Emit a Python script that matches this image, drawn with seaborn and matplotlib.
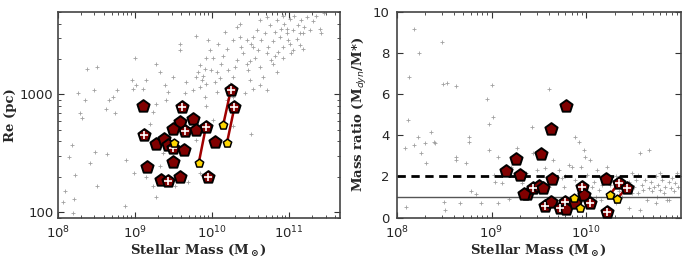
import numpy as np
import pandas as pd
import seaborn as sns
import matplotlib.pyplot as plt
from matplotlib.ticker import FixedLocator, FixedFormatter, LogLocator, NullFormatter

# ---- left panel: background sample, log10 stellar mass / log10 Re ----
bg_logm_re = [8.10, 8.14, 8.18, 8.23, 8.26, 8.29, 8.31, 8.35, 8.38, 8.42, 8.47, 8.48, 8.51, 8.51,
              8.63, 8.64, 8.66, 8.72, 8.74, 8.77, 8.87, 8.89, 8.96, 8.98, 8.99, 9.00, 9.02, 8.20,
              8.07, 8.21,
              9.11, 9.15, 9.28, 9.33, 9.39, 9.43, 9.50, 9.58, 9.58, 9.80, 9.84, 9.89, 9.92, 9.95,
              9.97, 9.99, 9.93, 9.80, 9.76, 9.67, 9.61, 9.41, 9.28, 9.24, 9.20, 9.37, 9.33, 9.50,
              9.67, 9.80, 9.28, 9.15, 9.24, 9.69, 9.84, 9.52, 9.61, 9.65, 9.84, 9.91,
              10.04, 10.06, 10.10, 10.12, 10.15, 10.19, 10.21, 10.23, 10.28, 10.30, 10.32, 10.33,
              10.36, 10.38, 10.41, 10.45, 10.47, 10.49, 10.51, 10.53, 10.56, 10.58, 10.60, 10.62,
              10.64, 10.66, 10.69, 10.71, 10.73, 10.75, 10.77, 10.79, 10.82, 10.84, 10.86, 10.88,
              10.90, 10.92, 10.94, 10.97, 10.99, 11.01, 11.03, 11.05, 11.07, 11.10, 11.12, 11.14,
              11.16, 11.18, 11.20, 11.23, 11.27, 11.31, 11.35, 11.40, 11.42, 11.46, 10.71, 10.53,
              10.43, 10.28, 10.19, 10.06, 9.93, 10.02, 10.51, 10.28, 10.23, 10.79, 10.84, 10.62,
              10.49, 10.28, 10.17, 10.08, 10.02, 9.91, 9.87, 9.82, 10.71, 10.92, 11.14, 11.01,
              10.62, 10.92, 11.05, 11.18, 10.82, 10.97, 10.53, 10.45, 10.36]
bg_logre = [2.18, 2.47, 2.57, 2.32, 3.01, 2.84, 2.80, 2.95, 3.22, 2.42, 3.04, 2.51, 3.23, 2.22,
            2.88, 2.49, 2.95, 2.98, 2.84, 3.04, 2.05, 2.44, 3.12, 3.05, 2.33, 3.31, 3.08, 1.99,
            2.09, 2.11,
            3.05, 3.12, 3.26, 3.19, 3.08, 3.02, 3.15, 3.43, 3.38, 3.50, 3.25, 3.16, 3.31, 3.46,
            3.38, 3.21, 3.09, 3.15, 3.04, 3.11, 2.91, 2.95, 2.92, 2.85, 2.75, 2.50, 2.39, 2.44,
            2.56, 2.61, 2.13, 2.30, 2.22, 2.26, 2.33, 2.22, 2.50, 3.01, 3.06, 2.98,
            3.11, 3.19, 3.14, 3.26, 3.33, 3.39, 3.21, 3.09, 3.15, 3.23, 3.29, 3.57,
            3.60, 3.40, 3.35, 3.26, 3.21, 3.12, 3.43, 3.49, 3.31, 3.55, 3.38, 3.23,
            3.46, 3.15, 3.52, 3.35, 3.40, 3.59, 3.29, 3.45, 3.53, 3.63, 3.36, 3.49,
            3.56, 3.40, 3.60, 3.52, 3.46, 3.64, 3.35, 3.55, 3.67, 3.47, 3.59, 3.42,
            3.63, 3.52, 3.57, 3.66, 3.55, 3.62, 3.67, 3.56, 3.52, 3.69, 3.04, 3.05,
            3.01, 2.98, 2.95, 3.02, 2.90, 2.78, 2.66, 2.73, 2.87, 3.26, 3.19, 3.08,
            3.28, 3.46, 3.53, 3.43, 3.31, 3.22, 3.12, 3.19, 3.66, 3.67, 3.52, 3.43,
            3.63, 3.31, 3.38, 3.39, 3.33, 3.56, 3.40, 3.46, 3.49]

# ---- left panel: our sample (mass in 1e9 Msun, Re in pc) ----
red_mass_re = [1.26, 4.04, 1.33, 1.87, 2.38, 2.66, 3.09, 3.84, 3.09, 4.46, 5.61, 6.30,
               4.33, 3.09, 1.45, 2.22, 2.71, 3.84, 8.34, 8.93, 11.1, 17.6, 19.6]
red_re = [796, 776, 452, 379, 416, 372, 349, 586, 508, 492, 614, 498,
          337, 268, 240, 188, 184, 200, 525, 198, 396, 1087, 776]
red_plus_re = [0, 1, 1, 0, 0, 0, 1, 0, 0, 1, 0, 0,
               0, 0, 0, 0, 1, 0, 1, 1, 0, 1, 1]
yel_mass_re = [3.25, 6.76, 14.0, 15.7]
yel_re = [385, 263, 550, 389]
# yellow point index -> red point index it is joined to
pairs_re = [(1, 18), (2, 21), (3, 22)]

# ---- right panel: background sample, log10 mass / mass ratio ----
bg_logm_mr = [8.18, 8.13, 8.12, 8.09, 8.10, 8.18, 8.24, 8.22, 8.26, 8.31, 8.30, 8.36, 8.39, 8.40,
              8.48, 8.49, 8.53, 8.50, 8.51, 8.62, 8.62, 8.63, 8.67, 8.73, 8.76, 8.76, 8.78, 8.84,
              8.89, 8.95, 8.97, 8.97, 9.00, 9.02, 9.03, 9.04, 9.07, 9.07, 9.11, 9.18, 9.21, 9.27,
              9.28, 9.32, 9.36, 9.43, 9.44, 9.48, 9.51, 9.56, 9.61, 9.61, 9.65, 9.71, 9.74, 9.78,
              9.82, 9.85, 9.88, 9.92, 9.94, 9.95, 9.98, 9.99, 10.01, 10.04, 10.06, 10.08, 10.10,
              10.13, 10.15, 10.17, 10.22, 10.24, 10.27, 10.31, 10.38, 10.41, 10.48, 10.50, 10.52,
              10.54, 10.57, 10.57, 10.59, 10.60, 10.62, 10.64, 10.66, 10.68, 10.69, 10.71, 10.73,
              10.75, 10.76, 10.78, 10.80, 10.82, 10.83, 10.85, 10.87, 10.89, 10.90, 10.92, 10.94,
              10.96, 10.97, 10.66, 10.48, 10.45, 10.34, 10.31, 10.25, 10.55, 10.78, 10.87, 10.73,
              10.45, 10.11, 9.88, 9.76, 9.62]
bg_ratio = [9.19, 6.82, 4.76, 3.38, 0.50, 3.54, 8.00, 3.94, 3.13, 2.65, 3.62, 4.19, 3.70, 3.62,
            8.57, 6.51, 6.57, 0.78, 0.37, 2.81, 6.41, 2.97, 0.70, 2.65, 3.94, 3.70, 1.27, 1.15,
            0.70, 5.78, 4.56, 3.30, 6.46, 4.92, 2.08, 1.75, 2.97, 0.70, 1.67, 0.89, 2.48, 3.38,
            2.81, 1.70, 2.16, 4.43, 3.13, 2.32, 1.59, 2.40, 6.25, 1.51, 2.81, 2.32, 1.92, 2.00,
            2.56, 2.48, 3.94, 3.70, 2.48, 1.51, 3.30, 2.97, 2.08, 2.81, 1.51, 1.75, 1.02,
            1.35, 0.86, 1.59, 2.48, 1.19, 1.83, 0.70, 1.02, 1.51, 2.16, 1.51, 1.83,
            1.19, 3.13, 0.37, 1.59, 1.35, 1.83, 0.86, 1.43, 1.75, 1.27, 1.51, 2.00,
            1.02, 1.59, 1.35, 1.83, 1.19, 1.51, 0.86, 1.75, 1.43, 1.92, 1.27, 1.67,
            2.16, 1.51, 3.30, 1.19, 1.75, 1.27, 2.00, 1.59, 2.08, 2.16, 0.86, 0.70,
            0.45, 2.32, 1.83, 1.51, 1.02]

# ---- right panel: our sample (mass in 1e9 Msun, Mdyn/M*) ----
red_mass_mr = [6.14, 4.23, 3.32, 1.81, 1.43, 2.00, 4.34, 2.36, 2.71, 3.13, 3.53, 3.62,
               4.23, 5.30, 5.98, 6.14, 7.60, 9.10, 9.50, 11.0, 16.2, 16.7, 22.2, 26.8, 2.20]
red_ratio = [5.44, 4.30, 3.10, 2.86, 2.29, 2.08, 1.88, 1.15, 1.43, 1.56, 1.43, 0.54,
             0.78, 0.46, 0.78, 0.41, 0.70, 1.51, 1.11, 0.70, 1.87, 0.26, 1.70, 1.46, 1.13]
red_plus_mr = [0, 0, 0, 0, 0, 0, 0, 0, 1, 0, 0, 1,
               0, 1, 1, 0, 0, 1, 0, 1, 0, 1, 1, 1, 0]
yel_mass_mr = [7.33, 8.63, 17.6, 21.0]
yel_ratio = [0.94, 0.46, 1.10, 0.91]
pairs_mr = [(2, 22), (3, 23)]


def draw_panel(ax, bg_x, bg_y, rx, ry, rplus, yx, yy, pairs):
    bg = pd.DataFrame({'x': bg_x, 'y': bg_y})
    red = pd.DataFrame({'x': rx, 'y': ry, 'plus': rplus})
    yel = pd.DataFrame({'x': yx, 'y': yy})

    sns.scatterplot(data=bg, x='x', y='y', ax=ax, marker='+', s=6, color='#a0a0a0',
                    linewidth=0.6, zorder=1)
    for yi, ri in pairs:
        ax.plot([yx[yi], rx[ri]], [yy[yi], ry[ri]], color='#a00000', lw=1.8, zorder=2)
    sns.scatterplot(data=red, x='x', y='y', ax=ax, marker='p', s=85, color='#800000',
                    edgecolor='black', linewidth=1.4, zorder=3)
    sns.scatterplot(data=red[red['plus'] == 1], x='x', y='y', ax=ax, marker='+', s=38,
                    color='white', linewidth=1.2, zorder=4)
    sns.scatterplot(data=yel, x='x', y='y', ax=ax, marker='p', s=40, color='#ffd700',
                    edgecolor='black', linewidth=1.1, zorder=5)


sns.set_style('ticks')
plt.rcParams['font.family'] = ['DejaVu Sans']
plt.rcParams['mathtext.default'] = 'regular'

fig = plt.figure(figsize=(6.87, 2.59), dpi=100)
ax1 = fig.add_axes([0.084, 0.160, 0.411, 0.793])
ax2 = fig.add_axes([0.5775, 0.160, 0.4134, 0.793])

draw_panel(ax1, 10 ** np.array(bg_logm_re), 10 ** np.array(bg_logre),
           np.array(red_mass_re) * 1e9, red_re, red_plus_re,
           np.array(yel_mass_re) * 1e9, yel_re, pairs_re)
draw_panel(ax2, 10 ** np.array(bg_logm_mr), bg_ratio,
           np.array(red_mass_mr) * 1e9, red_ratio, red_plus_mr,
           np.array(yel_mass_mr) * 1e9, yel_ratio, pairs_mr)

ax2.axhline(2, color='black', ls='--', lw=2, dashes=(3, 2), zorder=2.5)
ax2.axhline(1, color='#555555', lw=1, zorder=2.5)

ax1.set_xscale('log')
ax1.set_yscale('log')
ax1.set_xlim(1e8, 4.6e11)
ax1.set_ylim(90, 5000)
ax1.yaxis.set_major_locator(FixedLocator([100, 1000]))
ax1.yaxis.set_major_formatter(FixedFormatter(['100', '1000']))
ax1.yaxis.set_minor_locator(LogLocator(base=10, subs=np.arange(2, 10)))
ax1.yaxis.set_minor_formatter(NullFormatter())

ax2.set_xscale('log')
ax2.set_xlim(1e8, 9.9e10)
ax2.set_ylim(0, 10)
ax2.set_yticks([0, 2, 4, 6, 8, 10])

label_font = dict(family='DejaVu Serif', weight='bold', size=9.5)
ax1.set_xlabel(r'Stellar Mass (M$_\odot$)', fontdict=label_font, labelpad=1)
ax1.set_ylabel('Re (pc)', fontdict=label_font, labelpad=2)
ax2.set_xlabel(r'Stellar Mass (M$_\odot$)', fontdict=label_font, labelpad=1)
ax2.set_ylabel(r'Mass ratio (M$_{\mathit{dyn}}$/M*)', fontdict=label_font, labelpad=3)

for ax in (ax1, ax2):
    ax.tick_params(which='both', direction='in', top=True, right=True, labelsize=9.5,
                   color='#333333')
    ax.tick_params(which='major', length=4, width=0.8, pad=3)
    ax.tick_params(which='minor', length=2, width=0.6)
    ax.tick_params(axis='x', which='major', pad=5)
    for sp in ax.spines.values():
        sp.set_color('#444444')
        sp.set_linewidth(1.2)
    if ax.get_legend() is not None:
        ax.get_legend().remove()
ax2.tick_params(axis='y', which='major', pad=5)

fig.savefig('out.png', dpi=100)
